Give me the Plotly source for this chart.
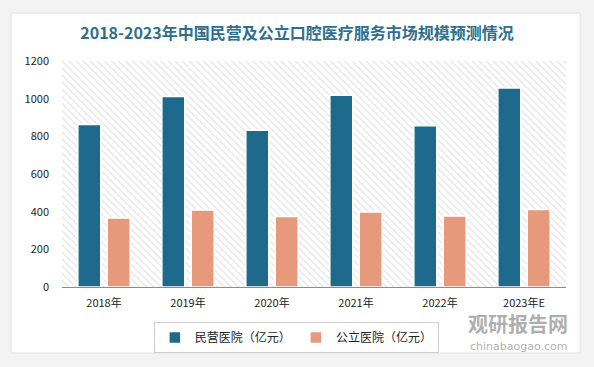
import plotly.graph_objects as go

categories = ["2018年", "2019年", "2020年", "2021年", "2022年", "2023年E"]
private_values = [863, 1011, 832, 1018, 856, 1057]
public_values = [366, 409, 374, 398, 377, 412]
private_name = "民营医院（亿元）"
public_name = "公立医院（亿元）"
title_text = "2018-2023年中国民营及公立口腔医疗服务市场规模预测情况"
y_ticks = [0, 200, 400, 600, 800, 1000, 1200]
y_max = 1200

fig = go.Figure()
# hatched background panel (one full-width bar on a hidden axis)
fig.add_trace(go.Bar(
    x=[0.5], y=[y_max], width=[1], xaxis="x", yaxis="y",
    marker=dict(color="#ffffff", line=dict(width=0),
                pattern=dict(shape="\\", fgcolor="#c8c8c8", bgcolor="#ffffff",
                             size=5, solidity=0.25)),
    showlegend=False, hoverinfo="skip",
))
fig.add_trace(go.Bar(
    x=categories, y=private_values, name=private_name, xaxis="x2", yaxis="y",
    marker=dict(color="#1d6a8d", line=dict(color="#ffffff", width=1.5)),
))
fig.add_trace(go.Bar(
    x=categories, y=public_values, name=public_name, xaxis="x2", yaxis="y",
    marker=dict(color="#e69a7b", line=dict(color="#ffffff", width=1.5)),
))

font_family = "Noto Sans CJK SC, Noto Sans, sans-serif"

fig.update_layout(
    width=594, height=367,
    margin=dict(l=62, r=28, t=61, b=80),
    paper_bgcolor="#f3f3f3",
    plot_bgcolor="rgba(0,0,0,0)",
    barmode="group",
    bargap=0.30,
    bargroupgap=0.22,
    font=dict(family=font_family, size=11, color="#333333"),
    title=dict(text="<b>" + title_text + "</b>", x=0.5, xanchor="center",
               y=0.91, yanchor="middle", xref="container",
               font=dict(family=font_family, size=16, color="#2c6f8e")),
    xaxis=dict(range=[0, 1], visible=False, fixedrange=True),
    xaxis2=dict(overlaying="x", showgrid=False, showline=True, linecolor="#8c8c8c", linewidth=1,
                ticks="", tickfont=dict(size=11, color="#222222"),
                ticklabelstandoff=6, side="bottom"),
    yaxis=dict(range=[0, y_max], tickvals=y_ticks, showgrid=False, zeroline=False,
               showline=False, ticks="", tickfont=dict(size=11, color="#222222"),
               ticklabelstandoff=12),
    legend=dict(orientation="h", x=0.465, xanchor="center", y=-0.155, yanchor="top",
                bgcolor="#ffffff", bordercolor="#d0d0d0", borderwidth=1,
                font=dict(size=12, color="#222222"), itemwidth=30,
                tracegroupgap=0),
    shapes=[
        dict(type="rect", xref="paper", yref="paper", x0=-0.101, x1=1.028, y0=-0.292, y1=1.212,
             fillcolor="#ffffff", line=dict(color="#e2e2e2", width=1), layer="below"),
    ],
    annotations=[
        dict(text="<b>观研报告网</b>", xref="paper", yref="paper", x=1.008, y=-0.160,
             xanchor="right", yanchor="middle", showarrow=False,
             font=dict(family=font_family, size=20, color="rgba(120,120,120,0.6)")),
        dict(text="chinabaogao.com", xref="paper", yref="paper", x=1.008, y=-0.262,
             xanchor="right", yanchor="middle", showarrow=False,
             font=dict(family="DejaVu Sans, sans-serif", size=11, color="rgba(120,120,120,0.6)")),
    ],
)

fig.write_html("out.html", config={"displayModeBar": False},
               post_script="document.body.style.margin='0px';")
